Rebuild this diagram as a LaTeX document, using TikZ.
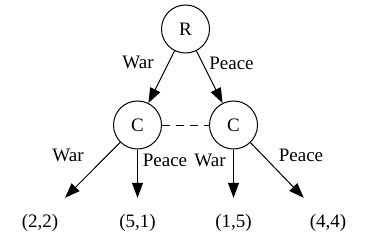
\documentclass[tikz,border=0pt]{standalone}
\usepackage{fontspec}
\setmainfont{Liberation Serif}
\usetikzlibrary{positioning,arrows.meta}

\begin{document}
\begin{tikzpicture}[x=1pt,y=-1pt,every node/.style={font=\rmfamily\fontsize{19}{21}\selectfont},
  player/.style={draw,circle,minimum size=48pt,inner sep=0pt,line width=1pt},
  leaf/.style={minimum width=56pt,minimum height=50pt,inner sep=0pt},
  lbl/.style={anchor=base,inner sep=0pt},
  move/.style={-{Triangle[length=15pt,width=11pt]},line width=1pt}]
  \useasboundingbox (0,0) rectangle (371,251);
  % players
  \node[player] (row) at (185.5,29) {R};
  \node[player] (colL) at (137.5,125) {C};
  \node[player] (colR) at (233.5,125) {C};
  % payoffs
  \node[leaf] (ww) at (40,223) {(2,2)};
  \node[leaf] (wp) at (137.5,223) {(5,1)};
  \node[leaf] (pw) at (233.5,223) {(1,5)};
  \node[leaf] (pp) at (328,223) {(4,4)};
  % moves
  \draw[move] (row) -- (colL);
  \draw[move] (row) -- (colR);
  \draw[move] (colL) -- (ww);
  \draw[move] (colL) -- (wp);
  \draw[move] (colR) -- (pw);
  \draw[move] (colR) -- (pp);
  \draw[dash pattern=on 8pt off 6pt,line width=1pt] (colL) -- (colR);
  % move labels
  \node[lbl] (rowWar) at (138,69) {War};
  \node[lbl] (rowPeace) at (231.5,70) {Peace};
  \node[lbl] (lWar) at (68,161.5) {War};
  \node[lbl] (lPeace) at (165,166.5) {Peace};
  \node[lbl] (rWar) at (210,166.5) {War};
  \node[lbl] (rPeace) at (301,161.5) {Peace};
\end{tikzpicture}
\end{document}
